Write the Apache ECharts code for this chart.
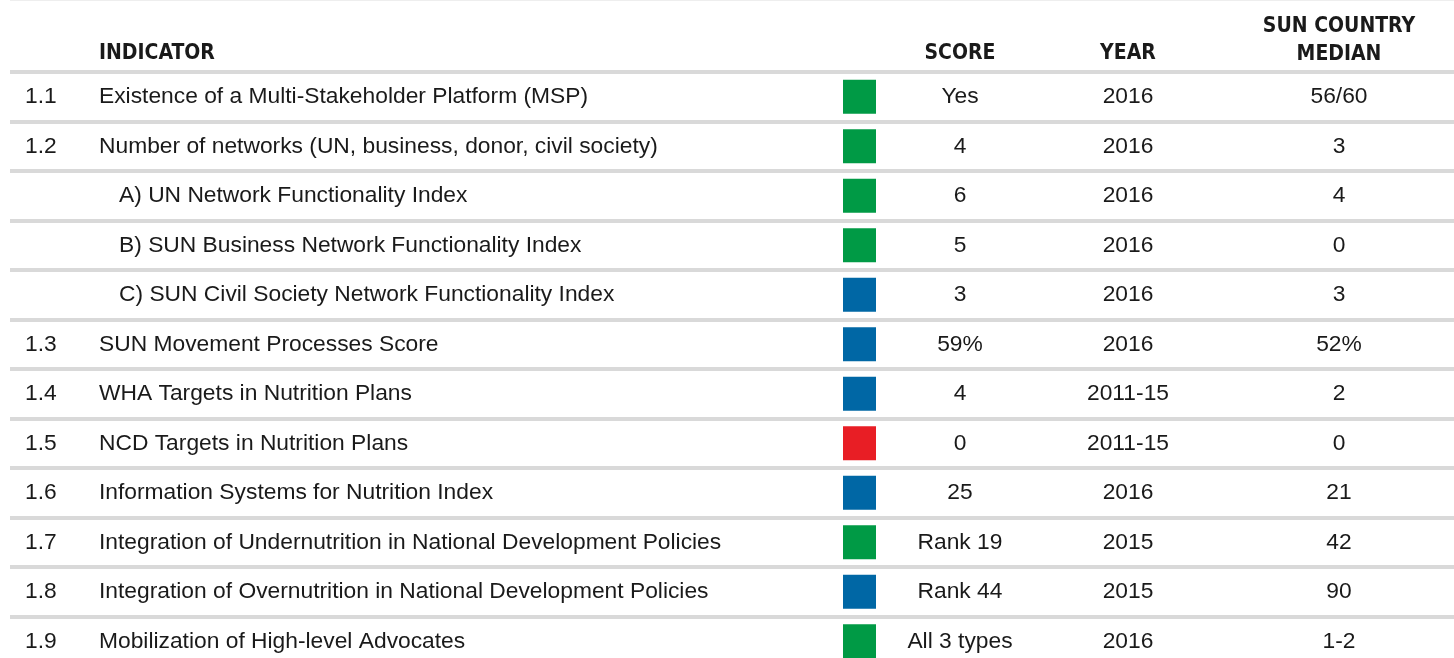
<!DOCTYPE html>
<html>
<head>
<meta charset="utf-8">
<script src="https://cdn.jsdelivr.net/npm/echarts@6/dist/echarts.min.js"></script>
<style>
  html, body { margin: 0; padding: 0; background: #fff; }
  #main { width: 1454px; height: 658px; }
</style>
</head>
<body>
<div id="main"></div>
<script>
// table rows
var codes = ['1.1', '1.2', '', '', '', '1.3', '1.4', '1.5', '1.6', '1.7', '1.8', '1.9'];
var indicators = [
    'Existence of a Multi-Stakeholder Platform (MSP)',
    'Number of networks (UN, business, donor, civil society)',
    'A) UN Network Functionality Index',
    'B) SUN Business Network Functionality Index',
    'C) SUN Civil Society Network Functionality Index',
    'SUN Movement Processes Score',
    'WHA Targets in Nutrition Plans',
    'NCD Targets in Nutrition Plans',
    'Information Systems for Nutrition Index',
    'Integration of Undernutrition in National Development Policies',
    'Integration of Overnutrition in National Development Policies',
    'Mobilization of High-level Advocates'
];
var levels = ['good', 'good', 'good', 'good', 'mid', 'mid', 'mid', 'bad', 'mid', 'good', 'mid', 'good'];
var scores = ['Yes', '4', '6', '5', '3', '59%', '4', '0', '25', 'Rank 19', 'Rank 44', 'All 3 types'];
var years = ['2016', '2016', '2016', '2016', '2016', '2016', '2011-15', '2011-15', '2016', '2015', '2015', '2016'];
var medians = ['56/60', '3', '4', '0', '3', '52%', '2', '0', '21', '42', '90', '1-2'];

var levelColor = {good: '#009a45', mid: '#0067a5', bad: '#e81e25'};
var bodyFont = "'Liberation Sans', Arial, sans-serif";
var headFont = "'DejaVu Sans Condensed', 'Liberation Sans', sans-serif";
var ink = '#1a1a1a';

// column x positions (px)
var colCode = 25, colInd = 99, colSub = 119, colBox = 859.5, colScore = 960, colYear = 1128, colMedian = 1339;

var chart = echarts.init(document.getElementById('main'));

function txt(str, x, y, align) {
    return {
        type: 'text',
        style: {
            text: str, x: x, y: y,
            align: align, verticalAlign: 'middle',
            fill: ink, fontSize: 22.8, fontFamily: bodyFont
        }
    };
}

function renderRow(params, api) {
    var i = params.dataIndex;
    var y = api.coord([colInd, i])[1];
    var band = params.coordSys.height / codes.length;
    var box = Math.round(band * 0.68);
    var kids = [];
    if (codes[i]) kids.push(txt(codes[i], colCode, y, 'left'));
    kids.push(txt(indicators[i], codes[i] ? colInd : colSub, y, 'left'));
    kids.push({
        type: 'rect',
        shape: {x: colBox - 16.5, y: y - box / 2, width: 33, height: box},
        style: {fill: levelColor[levels[i]]}
    });
    kids.push(txt(scores[i], colScore, y, 'center'));
    kids.push(txt(years[i], colYear, y, 'center'));
    kids.push(txt(medians[i], colMedian, y, 'center'));
    return {type: 'group', children: kids};
}

function head(str, x, y, align) {
    return {
        type: 'text', x: x, y: y,
        style: {
            text: str, align: align, verticalAlign: 'middle',
            fill: ink, fontSize: 21, fontWeight: 'bold', fontFamily: headFont
        }
    };
}

var option = {
    backgroundColor: '#fff',
    animation: false,
    grid: {left: 10, right: 0, top: 72, height: 594, outerBoundsMode: 'none'},
    xAxis: {type: 'value', min: 10, max: 1454, show: false},
    yAxis: {
        type: 'category',
        inverse: true,
        data: codes.map(function (c, i) { return i; }),
        axisLine: {show: false},
        axisTick: {show: false},
        axisLabel: {show: false, interval: 0},
        splitLine: {show: true, interval: 0, lineStyle: {color: '#d9d9d9', width: 4}}
    },
    graphic: [
        {type: 'line', shape: {x1: 10, y1: 0.5, x2: 1454, y2: 0.5}, style: {stroke: '#eeeeee', lineWidth: 1}},
        head('INDICATOR', colInd, 54, 'left'),
        head('SCORE', colScore, 54, 'center'),
        head('YEAR', colYear, 54, 'center'),
        head('SUN COUNTRY', colMedian, 27, 'center'),
        head('MEDIAN', colMedian, 55, 'center')
    ],
    series: [{
        type: 'custom',
        renderItem: renderRow,
        data: codes.map(function (c, i) { return [colInd, i]; }),
        encode: {x: 0, y: 1},
        silent: true
    }]
};
chart.setOption(option);
</script>
</body>
</html>
